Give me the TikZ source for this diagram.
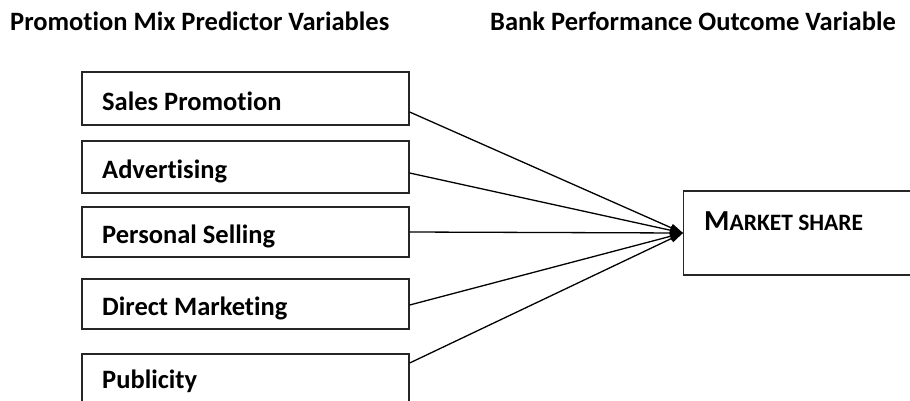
\documentclass[tikz,border=0pt]{standalone}
\usepackage{fontspec}
\setmainfont{Carlito}[Ligatures=NoCommon]
\usetikzlibrary{arrows.meta}
\tikzset{
  varbox/.style={draw=black!85, line width=1.3pt, minimum width=327pt, inner sep=0pt},
  outbox/.style={draw=black!85, line width=1.3pt, minimum width=260pt, minimum height=84pt, inner sep=0pt},
  boxlabel/.style={anchor=base west, inner sep=0pt, font=\bfseries\fontsize{26.5}{30}\selectfont},
  heading/.style={anchor=base west, inner sep=0pt, font=\bfseries\fontsize{26.5}{30}\selectfont},
  link/.style={line width=1.3pt, -{Triangle[length=13pt,width=8pt]}}
}
\begin{document}
\begin{tikzpicture}[x=1pt,y=-1pt]
\useasboundingbox (0,0) rectangle (910,400);

% column headings
\node[heading] (h1) at (10,30) {Promotion Mix Predictor Variables};
\node[heading] (h2) at (490,30) {Bank Performance Outcome Variable};

% predictor boxes
\node[varbox, minimum height=53pt] (b1) at (245.5,98.5) {};
\node[varbox, minimum height=52pt] (b2) at (245.5,167) {};
\node[varbox, minimum height=50pt] (b3) at (245.5,232) {};
\node[varbox, minimum height=50pt] (b4) at (245.5,304) {};
\node[varbox, minimum height=52pt] (b5) at (245.5,380) {};

\node[boxlabel] (t1) at (102,110) {Sales Promotion};
\node[boxlabel] (t2) at (102,178) {Advertising};
\node[boxlabel] (t3) at (102,243) {Personal Selling};
\node[boxlabel] (t4) at (102,315) {Direct Marketing};
\node[boxlabel] (t5) at (102,388) {Publicity};

% outcome box
\node[outbox, anchor=west] (ms) at (683,233) {};
\node[anchor=base west, inner sep=0pt, font=\bfseries] (mt) at (704,230)
  {\fontsize{29}{34}\selectfont M\fontsize{23.5}{28}\selectfont ARKET SHARE};

% connectors
\draw[link] ([yshift=-13.5pt]b1.east) -- (ms.west);
\draw[link] ([yshift=-6pt]b2.east) -- (ms.west);
\draw[link] (b3.east) -- (ms.west);
\draw[link] ([yshift=-1pt]b4.east) -- (ms.west);
\draw[link] ([yshift=17pt]b5.east) -- (ms.west);
\end{tikzpicture}
\end{document}
